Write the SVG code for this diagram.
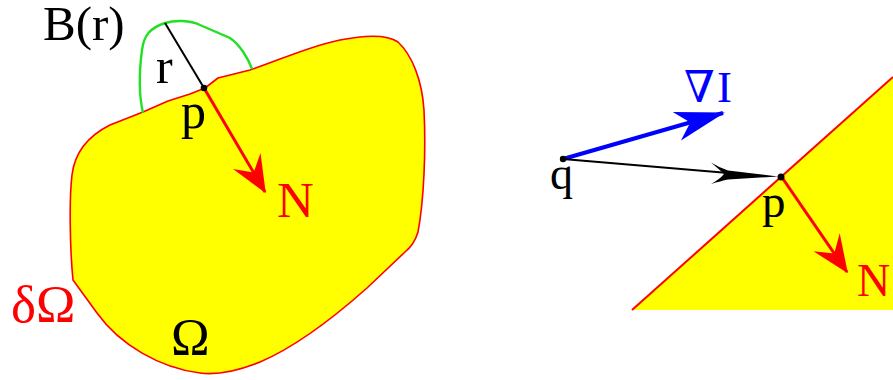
<svg xmlns="http://www.w3.org/2000/svg" width="893" height="380" viewBox="0 0 893 380">
<style>
.t{font-family:"Liberation Serif","Times New Roman",serif;}
.blk{fill:#000;}
.red{fill:#ff0000;}
.blue{fill:#0000ff;}
.region{fill:#ffff00;stroke:#ff0000;stroke-width:1.6;stroke-linejoin:round;}
</style>
<defs>
<marker id="headRed" viewBox="-13 -6 14 12" markerWidth="14" markerHeight="12" refX="0" refY="0" orient="auto" markerUnits="strokeWidth">
<path d="M0.5,0 L-12,-5.3 L-7.5,0 L-12,5.3 Z" fill="#ff0000"/>
</marker>
<marker id="headBlue" viewBox="-13 -5 14 10" markerWidth="14" markerHeight="10" refX="0" refY="0" orient="auto" markerUnits="strokeWidth">
<path d="M0.5,0 L-12,-3.7 L-8.5,0 L-12,3.7 Z" fill="#0000ff"/>
</marker>
</defs>

<g id="omega-region">
<path class="region" d="M143,112 L168,101 L190,94 L205,88 L218,78 L250,70 C280,60 310,46 340,40 C360,36 385,33 398,42 C412,55 422,80 424,110 C426,150 424,200 418,232 C415,242 410,248 405,252 L367,288 C340,312 300,345 260,362 C235,372 215,375 200,373 C160,368 120,345 97,313 L73,280 C70,250 69,200 72,175 C75,150 90,135 110,125 Z"/>
</g>

<g id="ball">
<path d="M143,113 C140,100 138,80 142,50 C144,35 150,28 165,23 C175,20 190,20 200,25 L230,38 C240,45 248,58 252,69" fill="none" stroke="#22e022" stroke-width="2.4"/>
</g>

<g id="half-plane">
<polygon points="632,310 893,77 893,310" fill="#ffff00"/>
<line x1="632" y1="310" x2="893" y2="77" stroke="#ff0000" stroke-width="2"/>
</g>

<g id="connectors">
<line id="radius" x1="165" y1="23" x2="204" y2="88" stroke="#000" stroke-width="2"/>
<line id="normal-left" x1="204" y1="88" x2="265" y2="192" stroke="#ff0000" stroke-width="3" marker-end="url(#headRed)"/>
<line id="normal-right" x1="781" y1="176" x2="847" y2="272" stroke="#ff0000" stroke-width="3" marker-end="url(#headRed)"/>
<line id="gradient" x1="563" y1="159" x2="723" y2="113" stroke="#0000ff" stroke-width="4" marker-end="url(#headBlue)"/>
<g id="q-to-p">
<line x1="563" y1="159" x2="740" y2="174" stroke="#000" stroke-width="2"/>
<path d="M778,176.5 L728,170.5 Q720,168 711,162.5 Q721,171 724,174 Q720,179 711,184 Q721,181 728,179.5 Z" fill="#000"/>
</g>
</g>

<g id="point-p-left"><circle cx="204" cy="88" r="3.3" fill="#000"/></g>
<g id="point-q"><circle cx="563" cy="159" r="3.2" fill="#000"/></g>
<g id="point-p-right"><circle cx="781" cy="177" r="3.5" fill="#000"/></g>

<g id="labels">
<text class="t blk" x="43" y="40" font-size="49">B(r)</text>
<text class="t blk" x="156" y="83" font-size="50">r</text>
<text class="t blk" x="181" y="128" font-size="50">p</text>
<text class="t red" x="277" y="217" font-size="51">N</text>
<text class="t red" x="11" y="322" font-size="53">δΩ</text>
<text class="t blk" x="171" y="355" font-size="52">Ω</text>
<text class="t blk" x="550" y="189" font-size="46">q</text>
<text class="t blue" y="102" font-size="45"><tspan x="684" font-family="'DejaVu Serif',serif" font-size="44">∇</tspan><tspan x="717">I</tspan></text>
<text class="t blk" x="762" y="217" font-size="47">p</text>
<text class="t red" x="857" y="296" font-size="46">N</text>
</g>
</svg>
